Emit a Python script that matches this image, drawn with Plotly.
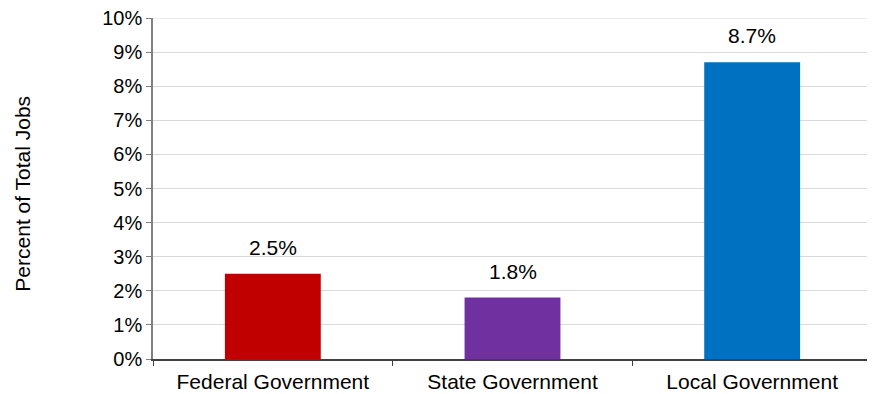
import plotly.graph_objects as go

categories = ["Federal Government", "State Government", "Local Government"]
values = [2.5, 1.8, 8.7]
labels = ["2.5%", "1.8%", "8.7%"]
colors = ["#C00000", "#7030A0", "#0070C0"]
yticks = list(range(0, 11))
yticklabels = [f"{v}%" for v in yticks]
ytitle = "Percent of Total Jobs"

FONT = "Liberation Sans, Arial"

fig = go.Figure()
fig.add_trace(go.Bar(x=categories, y=values, marker=dict(color=colors, line=dict(width=0)),
                     width=0.4, hoverinfo="skip"))
for c, v, t in zip(categories, values, labels):
    fig.add_annotation(x=c, y=v, text=t, showarrow=False, yanchor="bottom", yshift=13,
                       font=dict(size=21, color="#000000", family=FONT))

fig.add_annotation(xref="paper", yref="paper", x=-0.182, y=0.5, yshift=-5,
                   text=ytitle, textangle=-90, showarrow=False,
                   xanchor="center", yanchor="middle",
                   font=dict(size=21, color="#000000", family=FONT))

fig.update_layout(
    width=875, height=394,
    margin=dict(l=145, r=11, t=10, b=43),
    plot_bgcolor="white", paper_bgcolor="white",
    showlegend=False,
    font=dict(family=FONT, color="#000000", size=21),
)
fig.update_xaxes(type="category", tickson="boundaries", ticks="outside", ticklen=5,
                 tickcolor="#404040", showline=True, linecolor="#404040", linewidth=1.5,
                 tickfont=dict(size=21), showgrid=False, range=[-0.5, 2.5], automargin=False,
                 ticklabelstandoff=3)
fig.update_yaxes(range=[0, 10], tickvals=yticks, ticktext=yticklabels, ticks="outside", ticklen=5,
                 tickcolor="#808080", showline=True, linecolor="#808080", linewidth=1.5,
                 showgrid=True, gridcolor="#D9D9D9", gridwidth=1, zeroline=False,
                 tickfont=dict(size=20), automargin=False, ticklabeloverflow="allow")
fig.add_hline(y=10, line=dict(color="#D9D9D9", width=1), layer="below")
fig.write_html("out.html")
